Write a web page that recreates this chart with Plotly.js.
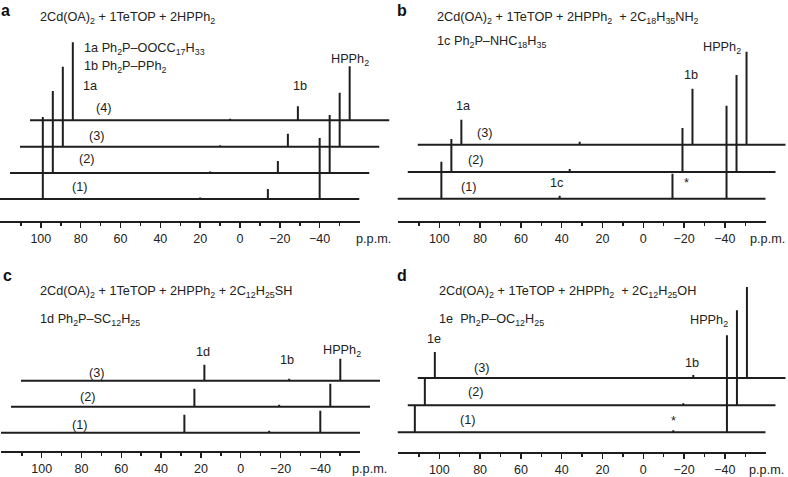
<!DOCTYPE html>
<html><head><meta charset="utf-8">
<script src="https://cdn.plot.ly/plotly-3.0.1.min.js"></script>
<style>html,body{margin:0;padding:0;background:#fff}#chart{width:788px;height:477px}</style>
</head><body><div id="chart"></div>
<script>
// ---- data (ppm positions and relative peak intensities) ----
const ppmStart = 120.5, ppmEnd = -60;
const majorTicks = [100, 80, 60, 40, 20, 0, -20, -40];
const minorTicks = [110, 90, 70, 50, 30, 10, -10, -30, -50];

// Panel a: 1a, small, 1b, HPPh2
const aPeakPpm = [99, 20, -14, -40];
const aSpec1 = [82, 1.5, 10, 61];
const aSpec2 = [82, 1.5, 12, 58];
const aSpec3 = [80, 1.5, 13, 54];
const aSpec4 = [78, 1.5, 14, 54];
// Panel b: 1a, 1c, 1b, HPPh2
const bPeakPpm = [99, 41, -14.3, -40.8];
const bSpec1 = [37, 3, 25, 93];
const bSpec2 = [33, 3, 44, 97];
const bSpec3 = [25, 3, 56, 93];
// Panel c: 1d, small, 1b, HPPh2
const cPeakPpm = [28.3, 20, -14.3, -40];
const cSpec1 = [18, 1, 2, 22];
const cSpec2 = [18, 1, 2, 23];
const cSpec3 = [16, 1, 2, 22];
// Panel d: 1e, small, 1b, HPPh2
const dPeakPpm = [112, 20, -14.7, -41];
const dSpec1 = [27, 1, 2, 97];
const dSpec2 = [27, 1, 2, 95];
const dSpec3 = [26, 1, 3, 91];

// ---- layout geometry ----
const W = 788, H = 477;
const panels = [
  {peaks: aPeakPpm, spectra: [aSpec1, aSpec2, aSpec3, aSpec4], x0: 0, x1: 359.5, axisY: 222, base: [199, 173, 146.7, 120.3]},
  {peaks: bPeakPpm, spectra: [bSpec1, bSpec2, bSpec3], x0: 397.5, x1: 765.7, axisY: 221.7, base: [198.7, 172, 144.7]},
  {peaks: cPeakPpm, spectra: [cSpec1, cSpec2, cSpec3], x0: 0.9, x1: 360.1, axisY: 452.3, base: [432.7, 406.7, 380.7]},
  {peaks: dPeakPpm, spectra: [dSpec1, dSpec2, dSpec3], x0: 397.5, x1: 765.7, axisY: 453.3, base: [432.3, 405.3, 378]}
];
const DX = 10;
const LINE = '#1e1e1e';
const FONT = 'Liberation Sans, Arial, sans-serif';

function stick(peaks, heights) {
  const order = peaks.map((p, i) => i).sort((i, j) => peaks[j] - peaks[i]);
  const xs = [ppmStart], ys = [0];
  order.forEach(i => { xs.push(peaks[i], peaks[i], peaks[i]); ys.push(0, heights[i], 0); });
  xs.push(ppmEnd); ys.push(0);
  return {x: xs, y: ys};
}

const data = [];
const layout = {
  width: W, height: H, margin: {l: 0, r: 0, t: 0, b: 0},
  paper_bgcolor: '#fff', plot_bgcolor: 'rgba(0,0,0,0)', showlegend: false,
  font: {family: FONT, size: 12, color: '#222'},
  annotations: []
};
let n = 0;
panels.forEach(P => {
  P.spectra.forEach((spec, k) => {
    n++;
    const xn = n === 1 ? 'xaxis' : 'xaxis' + n;
    const yn = n === 1 ? 'yaxis' : 'yaxis' + n;
    const xr = n === 1 ? 'x' : 'x' + n;
    const yr = n === 1 ? 'y' : 'y' + n;
    const s = stick(P.peaks, spec);
    data.push({x: s.x, y: s.y, xaxis: xr, yaxis: yr, type: 'scatter', mode: 'lines',
      line: {color: LINE, width: 2}, hoverinfo: 'skip'});
    const b = P.base[k];
    layout[yn] = {domain: [1 - (b + 10) / H, 1 - (b - 100) / H], range: [-10, 100], visible: false, anchor: xr, fixedrange: true};
    const xa = {domain: [(P.x0 + k * DX) / W, (P.x1 + k * DX) / W], range: [ppmStart, ppmEnd], anchor: yr, fixedrange: true};
    if (k === 0) {
      Object.assign(xa, {
        anchor: 'free', position: 1 - P.axisY / H,
        showline: true, linewidth: 2, linecolor: LINE, showgrid: false, zeroline: false,
        ticks: 'outside', ticklen: 5, tickwidth: 1.5, tickcolor: LINE,
        tickmode: 'array', tickvals: majorTicks, ticktext: majorTicks.map(v => v < 0 ? '\u2212' + (-v) : String(v)),
        tickfont: {family: FONT, size: 12.5, color: '#222'},
        ticklabelstandoff: 0,
        minor: {tickmode: 'array', tickvals: minorTicks, ticks: 'outside', ticklen: 3, tickwidth: 1.5, tickcolor: LINE, showgrid: false}
      });
    } else {
      xa.visible = false;
    }
    layout[xn] = xa;
  });
});

// ---- text labels ----
function ann(text, px, py, opts) {
  layout.annotations.push(Object.assign({
    text: text, x: px / W, y: 1 - py / H, xref: 'paper', yref: 'paper',
    xanchor: 'center', yanchor: 'middle', showarrow: false,
    font: {family: FONT, size: 12.7, color: '#222'}
  }, opts || {}));
}
const L = {xanchor: 'left'};
function letter(t, px, py) { ann('<b>' + t + '</b>', px, py, {font: {family: FONT, size: 16, color: '#111'}}); }

// panel a
letter('a', 5, 11);
ann('2Cd(OA)<sub>2</sub> + 1TeTOP + 2HPPh<sub>2</sub>', 38, 18.5, L);
ann('1a Ph<sub>2</sub>P–OOCC<sub>17</sub>H<sub>33</sub>', 82, 49, L);
ann('1b Ph<sub>2</sub>P–PPh<sub>2</sub>', 82, 67, L);
ann('1a', 90, 86);
ann('1b', 300, 86);
ann('HPPh<sub>2</sub>', 350, 60);
ann('(4)', 104.3, 108.3);
ann('(3)', 96.7, 135.7);
ann('(2)', 87.3, 159);
ann('(1)', 80, 186.7);
ann('p.p.m.', 373, 239);
// panel b
letter('b', 401.5, 10.5);
ann('2Cd(OA)<sub>2</sub> + 1TeTOP + 2HPPh<sub>2</sub>  + 2C<sub>18</sub>H<sub>35</sub>NH<sub>2</sub>', 435, 18.5, L);
ann('1c Ph<sub>2</sub>P–NHC<sub>18</sub>H<sub>35</sub>', 435, 42, L);
ann('HPPh<sub>2</sub>', 722.3, 48.5);
ann('1b', 690.7, 75);
ann('1a', 463.3, 106);
ann('(3)', 484.7, 132.7);
ann('(2)', 475.7, 160);
ann('(1)', 469, 186.7);
ann('1c', 557.3, 182.7);
ann('*', 686.7, 183);
ann('p.p.m.', 767, 239);
// panel c
letter('c', 7, 275);
ann('2Cd(OA)<sub>2</sub> + 1TeTOP + 2HPPh<sub>2</sub> + 2C<sub>12</sub>H<sub>25</sub>SH', 38, 291.7, L);
ann('1d Ph<sub>2</sub>P–SC<sub>12</sub>H<sub>25</sub>', 38, 320, L);
ann('1d', 203.3, 351.7);
ann('1b', 286.7, 360);
ann('HPPh<sub>2</sub>', 341.7, 351);
ann('(3)', 96.7, 373.3);
ann('(2)', 88.3, 397.3);
ann('(1)', 80, 425);
ann('p.p.m.', 369, 469);
// panel d
letter('d', 401.5, 275);
ann('2Cd(OA)<sub>2</sub> + 1TeTOP + 2HPPh<sub>2</sub>  + 2C<sub>12</sub>H<sub>25</sub>OH', 437, 291.7, L);
ann('1e  Ph<sub>2</sub>P–OC<sub>12</sub>H<sub>25</sub>', 437, 320, L);
ann('1e', 434, 339.3);
ann('HPPh<sub>2</sub>', 709, 320.5);
ann('1b', 692.3, 363.3);
ann('(3)', 482.3, 368.3);
ann('(2)', 475.7, 391.7);
ann('(1)', 468, 420);
ann('*', 673.3, 420.5);
ann('p.p.m.', 766, 469.5);

Plotly.newPlot('chart', data, layout, {staticPlot: true, displayModeBar: false});
</script>
</body></html>
